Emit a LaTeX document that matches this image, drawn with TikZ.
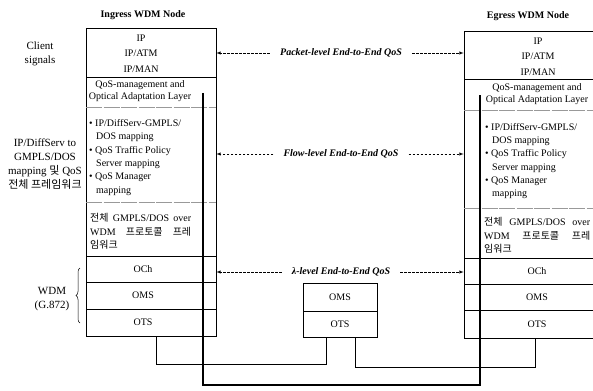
\documentclass[tikz,border=0pt]{standalone}
\usepackage{fontspec}
\setmainfont{Liberation Serif}
\newfontfamily\krfont{Noto Sans CJK KR}
\usetikzlibrary{decorations.pathreplacing}

\tikzset{
  nodebox/.style={draw, line width=0.7pt, inner sep=0pt},
  layerline/.style={line width=0.6pt},
  softline/.style={draw=black!40, line width=0.5pt, dash pattern=on 16pt off 1.5pt},
  titletext/.style={font=\fontsize{10}{12}\selectfont\bfseries},
  stacktext/.style={font=\fontsize{10}{15.5}\selectfont, align=center, inner sep=0pt},
  qostext/.style={font=\fontsize{10}{12}\selectfont, align=center, inner sep=0pt},
  listtext/.style={font=\fontsize{10}{13.3}\selectfont, align=left, anchor=west, inner sep=0pt},
  layertext/.style={font=\fontsize{10}{12}\selectfont, inner sep=0pt},
  sidetext/.style={font=\fontsize{11}{14}\selectfont, align=center, inner sep=0pt},
  qoslabel/.style={font=\fontsize{10}{12}\selectfont\bfseries\itshape, inner xsep=10pt},
  qosarrow/.style={dash pattern=on 2.5pt off 1.5pt, line width=0.5pt, -latex},
  link/.style={line width=0.7pt},
  fiber/.style={line width=2.6pt},
}

\begin{document}
\begin{tikzpicture}[x=1pt,y=-1pt]
\useasboundingbox (0,0) rectangle (593,390);

% titles
\node[titletext] (ingTitle) at (143,15) {Ingress WDM Node};
\node[titletext] (egrTitle) at (528,16) {Egress WDM Node};

% the three stacks
\node[nodebox, minimum width=130, minimum height=308] (ing) at (151,182) {};
\node[nodebox, minimum width=131, minimum height=307] (egr) at (529.5,184.5) {};
\node[nodebox, minimum width=74, minimum height=54] (mid) at (340,310) {};

\foreach \y in {77,256,282,309} \draw[layerline] (86,\y) -- (216,\y);
\foreach \y in {107,202} \draw[softline] (86,\y) -- (216,\y);
\foreach \y in {79,258,284,310} \draw[layerline] (464,\y) -- (595,\y);
\foreach \y in {110,208} \draw[softline] (464,\y) -- (595,\y);
\draw[layerline] (303,311) -- (377,311);

% ingress layers
\node[stacktext] (ingIP) at (141,53.5) {IP\\IP/ATM\\IP/MAN};
\node[qostext] (ingQoS) at (140,91) {QoS-management and\\Optical Adaptation Layer};
\node[listtext] (ingMap) at (89,157.5) {\textbullet\ IP/DiffServ-GMPLS/\\\hspace*{7pt}DOS mapping\\\textbullet\ QoS Traffic Policy\\\hspace*{7pt}Server mapping\\\textbullet\ QoS Manager\\\hspace*{7pt}mapping};
\node[listtext] (ingFw) at (90,231.5) {\makebox[101pt][s]{{\krfont 전체} GMPLS/DOS over}\\\makebox[101pt][s]{WDM {\krfont 프로토콜} {\krfont 프레}}\\{\krfont 임워크}};
\node[layertext] (ingOCh) at (143,269) {OCh};
\node[layertext] (ingOMS) at (143,295.5) {OMS};
\node[layertext] (ingOTS) at (143,322.5) {OTS};

% egress layers
\node[stacktext] (egrIP) at (538,56.5) {IP\\IP/ATM\\IP/MAN};
\node[qostext] (egrQoS) at (537,94.5) {QoS-management and\\Optical Adaptation Layer};
\node[listtext] (egrMap) at (485,161) {\textbullet\ IP/DiffServ-GMPLS/\\\hspace*{7pt}DOS mapping\\\textbullet\ QoS Traffic Policy\\\hspace*{7pt}Server mapping\\\textbullet\ QoS Manager\\\hspace*{7pt}mapping};
\node[listtext] (egrFw) at (484,235.5) {\makebox[106pt][s]{{\krfont 전체} GMPLS/DOS over}\\\makebox[106pt][s]{WDM {\krfont 프로토콜} {\krfont 프레}}\\{\krfont 임워크}};
\node[layertext] (egrOCh) at (537,271) {OCh};
\node[layertext] (egrOMS) at (537,297) {OMS};
\node[layertext] (egrOTS) at (537,324) {OTS};

% middle stack
\node[layertext] (midOMS) at (340,297) {OMS};
\node[layertext] (midOTS) at (340,324) {OTS};

% left side labels
\node[sidetext] (client) at (40,54) {Client\\signals};
\node[sidetext] (diffserv) at (45,164) {IP/DiffServ to\\GMPLS/DOS\\mapping {\krfont 및} QoS\\{\krfont 전체 프레임워크}};
\node[sidetext] (wdm) at (52,299) {WDM\\(G.872)};
\draw[decorate, decoration={brace, amplitude=4pt}, line width=0.5pt] (80,323) -- (80,268);

% fibre path between the nodes
\coordinate (ingFib) at (203,93);
\coordinate (egrFib) at (480,95);
\draw[fiber] (ingFib) -- (203,385) -| (egrFib);

% OTS links
\draw[link] ([xshift=5]ing.south) -- ++(0,28) -| ([xshift=-14]mid.south);
\draw[link] ([xshift=15]mid.south) -- ++(0,30) -| ([xshift=5.5]egr.south);

% end-to-end QoS levels
\node[qoslabel] (pkt) at (341,53) {Packet-level End-to-End QoS};
\draw[qosarrow] (pkt.west) -- (pkt.west -| ing.east);
\draw[qosarrow] (pkt.east) -- (pkt.east -| egr.west);

\node[qoslabel] (flow) at (341,154) {Flow-level End-to-End QoS};
\draw[qosarrow] (flow.west) -- (flow.west -| ing.east);
\draw[qosarrow] (flow.east) -- (flow.east -| egr.west);

\node[qoslabel] (lam) at (341,272) {λ-level End-to-End QoS};
\draw[qosarrow] (lam.west) -- (lam.west -| ing.east);
\draw[qosarrow] (lam.east) -- (lam.east -| egr.west);
\end{tikzpicture}
\end{document}
